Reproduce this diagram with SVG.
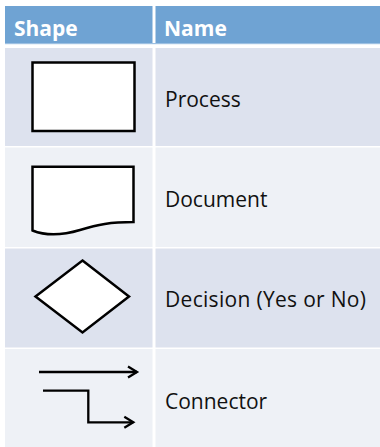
<svg xmlns="http://www.w3.org/2000/svg" width="380" height="447" viewBox="0 0 380 447">
  <style>
    .hdr { fill: #6FA3D3; }
    .odd { fill: #DDE2EE; }
    .even { fill: #EEF1F6; }
    .htxt { font-family: "Open Sans", "DejaVu Sans", sans-serif; font-weight: bold; font-size: 21px; fill: #FFFFFF; }
    .txt { font-family: "Open Sans", "DejaVu Sans", sans-serif; font-size: 21px; fill: #111111; }
    .shape { fill: #FFFFFF; stroke: #000000; stroke-width: 2.5; stroke-linejoin: miter; }
    .line { fill: none; stroke: #000000; stroke-width: 2.3; }
  </style>
  <defs>
    <marker id="arrow" markerUnits="userSpaceOnUse" markerWidth="14" markerHeight="14" refX="11" refY="7" orient="auto">
      <path d="M2,1.5 L11,7 L2,12.5" fill="none" stroke="#000000" stroke-width="2.3"/>
    </marker>
  </defs>
  <rect x="0" y="0" width="380" height="447" fill="#FFFFFF"/>
  <g id="table">
    <rect class="hdr" x="5" y="6" width="147.5" height="38"/>
    <rect class="hdr" x="155.5" y="6" width="224.5" height="38"/>
    <rect x="5" y="43" width="375" height="1.2" fill="#9DC0E2"/>
    <rect class="odd" x="5" y="48" width="147.5" height="98"/>
    <rect class="odd" x="155.5" y="48" width="224.5" height="98"/>
    <rect class="even" x="5" y="147.5" width="147.5" height="99.5"/>
    <rect class="even" x="155.5" y="147.5" width="224.5" height="99.5"/>
    <rect class="odd" x="5" y="248.5" width="147.5" height="99"/>
    <rect class="odd" x="155.5" y="248.5" width="224.5" height="99"/>
    <rect class="even" x="5" y="349" width="147.5" height="98"/>
    <rect class="even" x="155.5" y="349" width="224.5" height="98"/>
    <text class="htxt" x="14" y="35.5">Shape</text>
    <text class="htxt" x="164" y="35.5">Name</text>
  </g>
  <g id="process">
    <rect class="shape" x="32.5" y="62.5" width="102" height="68.5"/>
    <text class="txt" x="165" y="107">Process</text>
  </g>
  <g id="document">
    <path class="shape" d="M32.5,166.8 H133.5 V222 C110,222 98,224.5 80,230 C60,236 45,235.5 32.5,230.5 Z"/>
    <text class="txt" x="165" y="206.5">Document</text>
  </g>
  <g id="decision">
    <polygon class="shape" points="82.5,260.5 129,296.5 82.5,332.5 35.5,296.5"/>
    <text class="txt" x="165" y="307" textLength="201" lengthAdjust="spacing">Decision (Yes or No)</text>
  </g>
  <g id="connector">
    <text class="txt" x="165" y="409">Connector</text>
  </g>
  <g id="connectors">
    <line class="line" x1="39" y1="372" x2="137" y2="372" marker-end="url(#arrow)"/>
    <polyline class="line" points="43,390.7 88.3,390.7 88.3,422.3 133.3,422.3" marker-end="url(#arrow)"/>
  </g>
</svg>
